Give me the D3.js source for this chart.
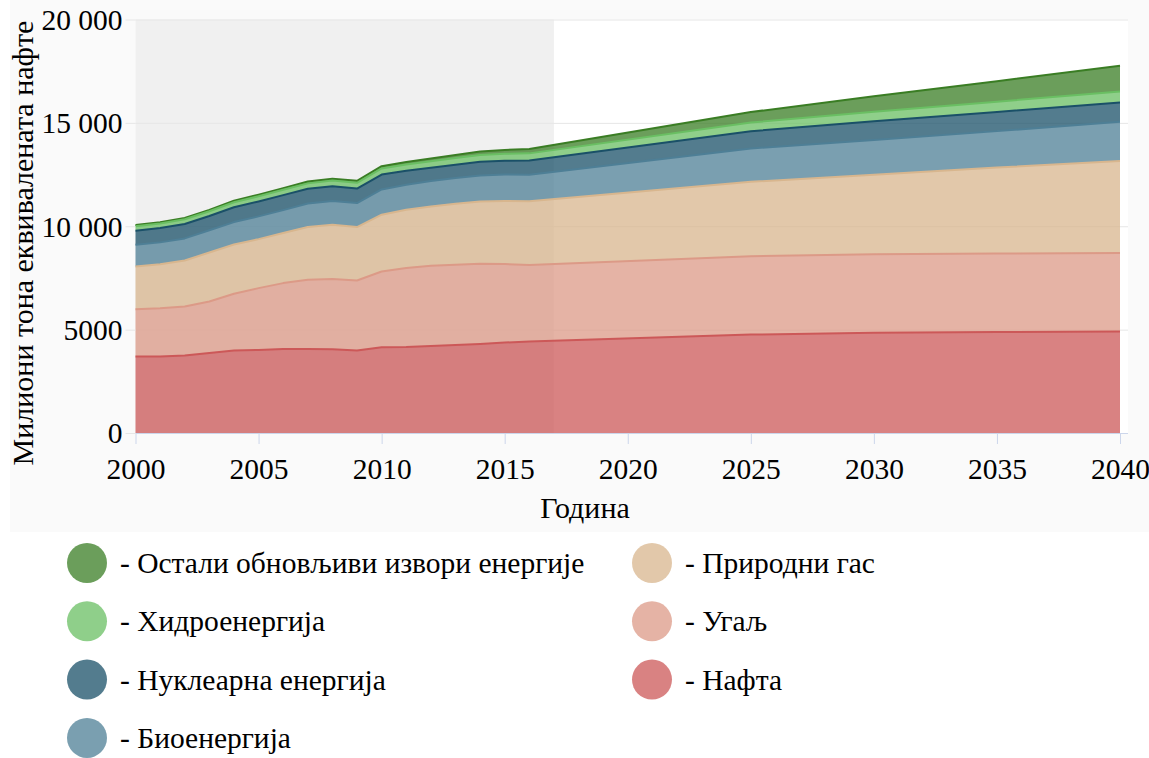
<!DOCTYPE html>
<html>
<head>
<meta charset="utf-8">
<script src="https://cdn.jsdelivr.net/npm/d3@7/dist/d3.min.js"></script>
<style>
  html, body { margin: 0; padding: 0; background: #ffffff; }
  svg { display: block; }
  text { font-family: "Liberation Serif", "Times New Roman", serif; fill: #000; }
</style>
</head>
<body>
<svg id="chart" width="1149" height="758"></svg>
<script>
// ---------- data ----------
const years   = [2000, 2001, 2002, 2003, 2004, 2005, 2006, 2007, 2008, 2009, 2010, 2011, 2012, 2013, 2014, 2015, 2016, 2025, 2030, 2035, 2040];
const oil     = [3695, 3705, 3753, 3874, 3986, 4020, 4068, 4068, 4054, 3986, 4150, 4165, 4213, 4262, 4310, 4373, 4422, 4760, 4850, 4880, 4906];
const coal    = [2295, 2325, 2364, 2485, 2750, 2988, 3182, 3342, 3389, 3390, 3662, 3811, 3875, 3874, 3875, 3797, 3700, 3788, 3795, 3800, 3797];
const gas     = [2064, 2130, 2230, 2370, 2380, 2370, 2420, 2552, 2630, 2586, 2746, 2824, 2872, 2954, 3017, 3050, 3089, 3603, 3850, 4159, 4457];
const bio     = [1050, 1060, 1065, 1075, 1085, 1100, 1110, 1140, 1150, 1160, 1220, 1210, 1225, 1240, 1255, 1280, 1284, 1613, 1681, 1762, 1889];
const nuclear = [ 675,  690,  695,  690,  715,  720,  725,  710,  710,  700,  720,  675,  640,  645,  660,  670,  680,  830,  900,  930,  939];
const hydro   = [ 225,  222,  228,  232,  245,  252,  260,  262,  275,  277,  296,  300,  315,  325,  333,  335,  350,  420,  460,  495,  533];
const other   = [  55,   58,   62,   66,   70,   75,   80,   87,   93,  100,  110,  122,  135,  150,  165,  185,  212,  508,  754,  988, 1240];

// legend / series order (as listed in legend)
const seriesKeys   = ["other", "hydro", "nuclear", "bio", "gas", "coal", "oil"];
const seriesNames  = ["- Остали обновљиви извори енергије", "- Хидроенергија", "- Нуклеарна енергија", "- Биоенергија", "- Природни гас", "- Угаљ", "- Нафта"];
const seriesColors = ["#3a7d24", "#6abf63", "#1a5068", "#4e7f96", "#d8b68e", "#dc9a87", "#cc5858"];

const xTicks = [2000, 2005, 2010, 2015, 2020, 2025, 2030, 2035, 2040];
const yTicks = [0, 5000, 10000, 15000, 20000];
const yTickLabels = ["0", "5000", "10 000", "15 000", "20 000"];
const bandRange = [2000, 2017];
const xTitle = "Година";
const yTitle = "Милиони тона еквивалената нафте";

// ---------- build table ----------
const valuesByKey = { oil, coal, gas, bio, nuclear, hydro, other };
const table = years.map((yr, i) => {
  const row = { year: yr };
  seriesKeys.forEach(k => row[k] = valuesByKey[k][i]);
  return row;
});

// ---------- layout ----------
const svg = d3.select("#chart");
const plotLeft = 135.5, plotRight = 1128, plotTop = 19.5, plotBottom = 433;

const x = d3.scaleLinear().domain([2000, 2040]).range([135.5, 1120]);
const y = d3.scaleLinear().domain([0, 20000]).range([plotBottom, plotTop]);

// chart background
svg.append("rect").attr("x", 10).attr("y", 0).attr("width", 1139).attr("height", 532).attr("fill", "#fafafa");
// plot background
svg.append("rect").attr("x", plotLeft).attr("y", plotTop).attr("width", plotRight - plotLeft).attr("height", plotBottom - plotTop).attr("fill", "#ffffff");
// plot band
svg.append("rect")
  .attr("x", x(bandRange[0])).attr("y", plotTop)
  .attr("width", x(bandRange[1]) - x(bandRange[0]))
  .attr("height", plotBottom - plotTop)
  .attr("fill", "#f0f0f0");

// gridlines
const grid = svg.append("g").attr("transform", `translate(${plotLeft},0)`)
  .call(d3.axisLeft(y).tickValues(yTicks).tickSize(-(plotRight - plotLeft)).tickFormat(""));
grid.select(".domain").remove();
grid.selectAll("line").attr("stroke", "#e6e6e6").attr("stroke-width", 1);

// stacked areas
const stackOrder = seriesKeys.slice().reverse(); // bottom first
const stack = d3.stack().keys(stackOrder);
const stacked = stack(table);

const area = d3.area()
  .x(d => x(d.data.year))
  .y0(d => y(d[0]))
  .y1(d => y(d[1]));
const topLine = d3.line()
  .x(d => x(d.data.year))
  .y(d => y(d[1]));

const colorOf = k => seriesColors[seriesKeys.indexOf(k)];

seriesKeys.forEach(k => {
  const layer = stacked.find(s => s.key === k);
  const g = svg.append("g");
  g.append("path").attr("d", area(layer)).attr("fill", colorOf(k)).attr("fill-opacity", 0.75);
  g.append("path").attr("d", topLine(layer)).attr("fill", "none")
    .attr("stroke", colorOf(k)).attr("stroke-width", 2).attr("stroke-linejoin", "round");
});

// x axis
const xAxis = svg.append("g").attr("transform", `translate(0,${plotBottom})`)
  .call(d3.axisBottom(x).tickValues(xTicks).tickFormat(d3.format("d")).tickSize(11).tickPadding(14).tickSizeOuter(0));
xAxis.select(".domain").attr("stroke", "#ccd6eb").attr("d", `M${plotLeft},0.5H${plotRight}`);
xAxis.selectAll(".tick line").attr("stroke", "#ccd6eb");
xAxis.selectAll(".tick text").attr("font-size", 29.5).attr("fill", "#000");

// y axis
const yAxis = svg.append("g").attr("transform", `translate(${plotLeft},0)`)
  .call(d3.axisLeft(y).tickValues(yTicks).tickFormat((d, i) => yTickLabels[i]).tickSize(10).tickPadding(3));
yAxis.select(".domain").remove();
yAxis.selectAll(".tick line").attr("stroke", "#e6e6e6");
yAxis.selectAll(".tick text").attr("font-size", 29.5).attr("fill", "#000").attr("dy", "0.33em");

// titles
svg.append("text").attr("x", 585).attr("y", 518).attr("text-anchor", "middle")
  .attr("font-size", 30).text(xTitle);
svg.append("text").attr("transform", "translate(33,243) rotate(-90)").attr("text-anchor", "middle")
  .attr("font-size", 30).text(yTitle);

// legend
const legend = svg.append("g");
seriesKeys.forEach((k, i) => {
  const col = Math.floor(i / 4), row = i % 4;
  const cx = col === 0 ? 87 : 652;
  const cy = 563 + row * 58.3;
  legend.append("circle").attr("cx", cx).attr("cy", cy).attr("r", 20)
    .attr("fill", colorOf(k)).attr("fill-opacity", 0.75);
  legend.append("text").attr("x", cx + 33).attr("y", cy + 10)
    .attr("font-size", 29.5).text(seriesNames[i]);
});
</script>
</body>
</html>
